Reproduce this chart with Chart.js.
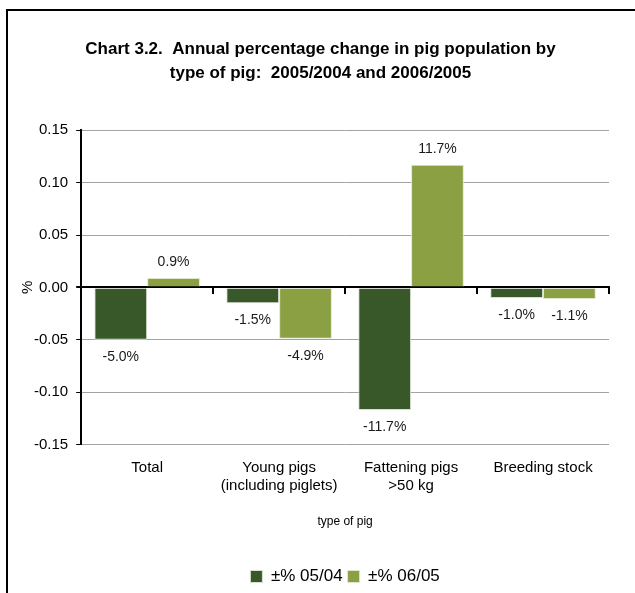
<!DOCTYPE html>
<html>
<head>
<meta charset="utf-8">
<script src="https://cdn.jsdelivr.net/npm/chart.js@4.4.1/dist/chart.umd.min.js"></script>
<style>
  html, body { margin: 0; padding: 0; background: #fff; overflow: hidden; }
  #wrap { position: relative; width: 635px; height: 593px; overflow: hidden; }
  #frame { position: absolute; left: 6px; top: 9px; right: -10px; bottom: -10px;
           border-left: 2px solid #000; border-top: 2px solid #000; pointer-events: none; }
  canvas { position: absolute; left: 0; top: 0; }
</style>
</head>
<body>
<div id="wrap">
  <canvas id="pigChart" width="635" height="593"></canvas>
  <div id="frame"></div>
</div>
<script>
"use strict"

// categories (multi-line labels)
const categories = [["Total"], ["Young pigs", "(including piglets)"], ["Fattening pigs", ">50 kg"], ["Breeding stock"]];
// annual change, as fraction
const change0504 = [-0.050, -0.015, -0.117, -0.010];
const change0605 = [0.009, -0.049, 0.117, -0.011];
const seriesNames = ["±% 05/04", "±% 06/05"];
const yTicks = [-0.15, -0.10, -0.05, 0.00, 0.05, 0.10, 0.15];

const FONT = '"Liberation Sans", Arial, sans-serif';
Chart.defaults.font.family = FONT;
Chart.defaults.color = '#000';

// value labels above / below each bar
const barLabels = {
    id: 'barLabels',
    afterDatasetsDraw(chart) {
        const ctx = chart.ctx;
        ctx.save();
        ctx.font = '14px ' + FONT;
        ctx.fillStyle = '#1a1a1a';
        ctx.textAlign = 'center';
        ctx.textBaseline = 'middle';
        chart.data.datasets.forEach((ds, i) => {
            chart.getDatasetMeta(i).data.forEach((bar, j) => {
                const v = ds.data[j];
                const txt = (v * 100).toFixed(1) + '%';
                const y = v < 0 ? bar.y + 17 : bar.y - 16;
                ctx.fillText(txt, bar.x, y);
            });
        });
        ctx.restore();
    }
};

const ctx = document.getElementById('pigChart').getContext('2d');
const pigChart = new Chart(ctx, {
    type: 'bar',
    data: {
        labels: categories,
        datasets: [{
            label: seriesNames[0],
            data: change0504,
            backgroundColor: '#38582a',
            borderColor: '#d9e0cf',
            borderWidth: 1,
            categoryPercentage: 0.8,
            barPercentage: 1.0
        }, {
            label: seriesNames[1],
            data: change0605,
            backgroundColor: '#8aa043',
            borderColor: '#dfe6cc',
            borderWidth: 1,
            categoryPercentage: 0.8,
            barPercentage: 1.0
        }]
    },
    options: {
        responsive: false,
        animation: false,
        layout: {
            padding: { left: 6, right: 0, top: 0, bottom: -2 }
        },
        plugins: {
            title: {
                display: true,
                text: ['Chart 3.2.  Annual percentage change in pig population by',
                       'type of pig:  2005/2004 and 2006/2005'],
                font: { size: 17, weight: 'bold', lineHeight: 1.42 },
                color: '#000',
                padding: { top: 37, bottom: 45 }
            },
            legend: {
                position: 'bottom',
                fullSize: false,
                labels: {
                    boxWidth: 12,
                    boxHeight: 12,
                    padding: 5,
                    font: { size: 17 },
                    color: '#000'
                }
            },
            tooltip: { enabled: false }
        },
        scales: {
            x: {
                grid: { display: false, drawTicks: false },
                border: { display: false },
                ticks: { font: { size: 15, lineHeight: 1.2 }, padding: 14, maxRotation: 0 },
                title: {
                    display: true,
                    text: 'type of pig',
                    font: { size: 12 },
                    padding: { top: 6, bottom: 34 }
                }
            },
            // axis line along zero with tick marks between categories
            x2: {
                type: 'category',
                labels: categories,
                position: { y: 0 },
                offset: true,
                grid: { offset: true, drawOnChartArea: false, drawTicks: true, tickLength: 6, color: '#000', lineWidth: 2 },
                border: { display: true, color: '#000', width: 2 },
                ticks: { display: false }
            },
            y: {
                min: -0.15,
                max: 0.15,
                afterBuildTicks: (scale) => { scale.ticks = yTicks.map(v => ({ value: v })); },
                ticks: {
                    font: { size: 15 },
                    padding: 8,
                    callback: (v) => Number(v).toFixed(2)
                },
                grid: {
                    color: (c) => (c.tick && Math.abs(c.tick.value) < 1e-9) ? '#000' : '#a3a3a3',
                    lineWidth: (c) => (c.tick && Math.abs(c.tick.value) < 1e-9) ? 2 : 1,
                    tickColor: '#000',
                    tickLength: 5
                },
                border: { display: true, color: '#000', width: 2 },
                title: {
                    display: true,
                    text: '%',
                    font: { size: 15, lineHeight: 1.0 },
                    padding: { top: 14.5, bottom: -9.5 }
                }
            },
            // spacer on the right so the title sits like in the original
            y2: {
                position: 'right',
                display: true,
                grid: { display: false, drawTicks: false },
                border: { display: false },
                ticks: { display: false },
                afterFit: (scale) => { scale.width = 26; }
            }
        }
    },
    plugins: [barLabels]
});
</script>
</body>
</html>
